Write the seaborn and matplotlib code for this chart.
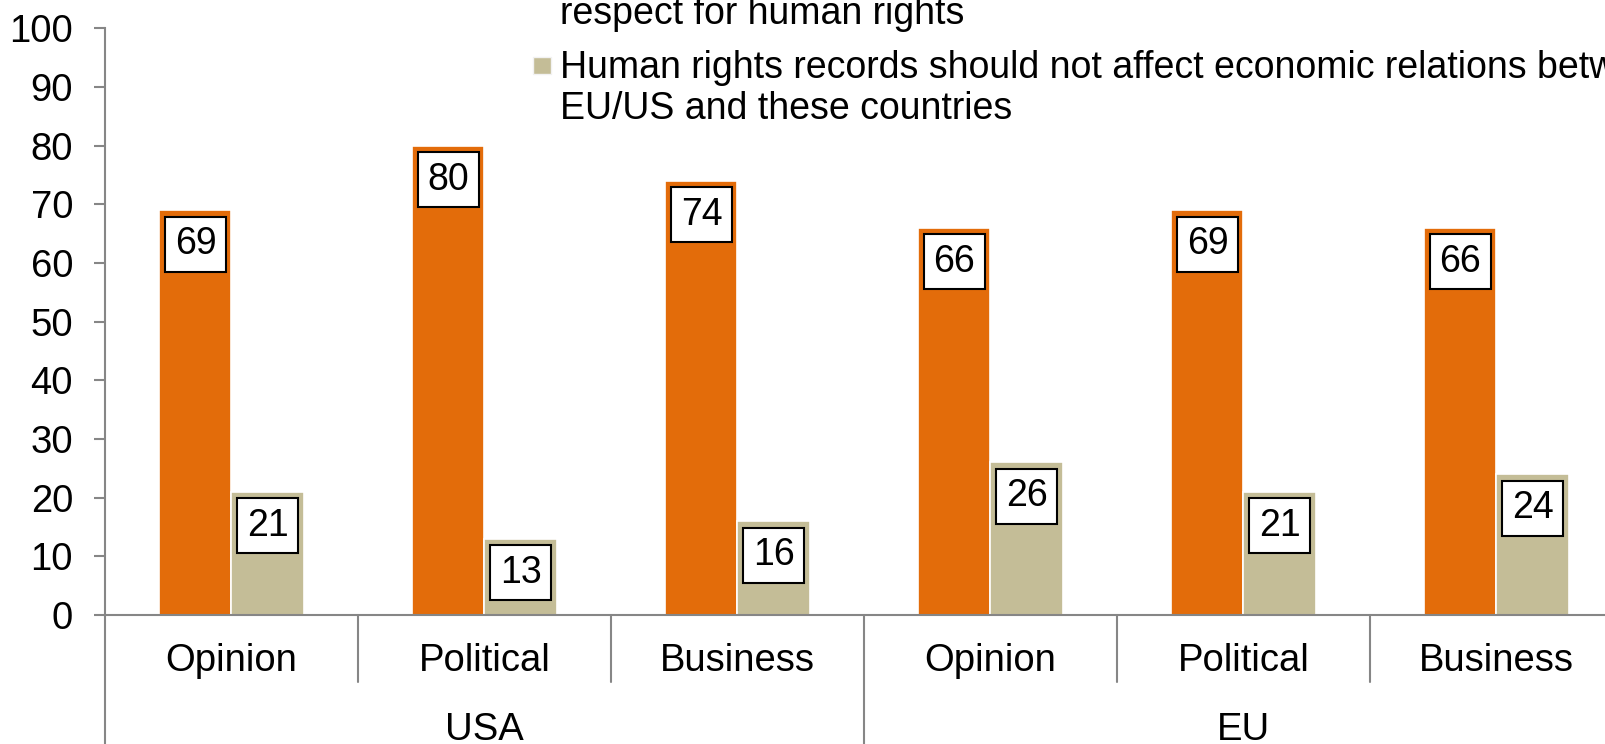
import matplotlib
matplotlib.use("Agg")
import matplotlib.pyplot as plt
from matplotlib.patches import Rectangle
import seaborn as sns
import pandas as pd

# Survey results (% of respondents)
regions = ["USA", "EU"]
groups = ["Opinion", "Political", "Business"]
series_lines = [
    ["Economic relations between EU/US and these countries should depend on their",
     "respect for human rights"],
    ["Human rights records should not affect economic relations between",
     "EU/US and these countries"],
]
series_names = [" ".join(lines) for lines in series_lines]
conditional = [69, 80, 74, 66, 69, 66]
not_affect = [21, 13, 16, 26, 21, 24]
colors = ["#E36C0A", "#C4BD97"]

sns.set_theme(style="white")
plt.rcParams["font.family"] = ["Liberation Sans", "DejaVu Sans"]
plt.rcParams["text.color"] = "black"

keys = [f"{r} {g}" for r in regions for g in groups]
df = pd.DataFrame({
    "key": keys * 2,
    "value": conditional + not_affect,
    "series": [series_names[0]] * len(keys) + [series_names[1]] * len(keys),
})

W, H = 1606, 744
fig = plt.figure(figsize=(W / 100, H / 100), dpi=100)
ax = fig.add_axes([105 / W, 129 / H, 1518 / W, 586.7 / H])

sns.barplot(data=df, x="key", y="value", hue="series", order=keys,
            hue_order=series_names, palette=colors, saturation=1, width=0.57,
            edgecolor="white", linewidth=1.2, legend=False, ax=ax)

axis_grey = "#868686"
ax.set_xlim(-0.5, len(keys) - 0.5)
ax.set_ylim(0, 100)
ax.set_yticks(range(0, 101, 10))
ax.set_xlabel("")
ax.set_ylabel("")
for side in ["top", "right"]:
    ax.spines[side].set_visible(False)
for side in ["left", "bottom"]:
    ax.spines[side].set_color(axis_grey)
    ax.spines[side].set_linewidth(1.5)

ax.tick_params(axis="y", direction="out", length=8, width=1.5, color=axis_grey,
               pad=15, labelsize=27.5, labelcolor="black", left=True)
ax.set_xticks(range(len(keys)))
ax.set_xticklabels([g for _ in regions for g in groups])
ax.tick_params(axis="x", length=0, pad=20, labelsize=27.5, labelcolor="black")

# Category separators and region separators below the axis
for b in [0.5, 1.5, 3.5, 4.5]:
    ax.axvline(b, ymin=-0.114, ymax=0, color=axis_grey, lw=1.5, clip_on=False)
for b in [-0.5, 2.5, 5.5]:
    ax.axvline(b, ymin=-0.25, ymax=0, color=axis_grey, lw=1.5, clip_on=False)

# Region labels
for i, r in enumerate(regions):
    ax.annotate(r, xy=(i * len(groups) + (len(groups) - 1) / 2, 0),
                xycoords=("data", "axes fraction"), xytext=(0, -125),
                textcoords="offset pixels", ha="center", va="baseline",
                fontsize=27.5, color="black")

# Value labels inside the top of each bar
for container, vals in zip(ax.containers, [conditional, not_affect]):
    for bar, v in zip(container, vals):
        ax.annotate(f"{v}", xy=(bar.get_x() + bar.get_width() / 2, v),
                    xytext=(0, -34), textcoords="offset pixels",
                    ha="center", va="center", fontsize=27, color="black",
                    bbox=dict(boxstyle="square,pad=0.25", fc="white",
                              ec="black", lw=1.5))

# Legend: swatch beside the first line of each entry
first_baselines = [-17, 78]
line_step = 41
for lines, col, yb in zip(series_lines, colors, first_baselines):
    fig.patches.append(Rectangle((533 / W, 1 - (yb - 4) / H), 18 / W, 17 / H,
                                 transform=fig.transFigure, facecolor=col,
                                 edgecolor="#F2F2F2", lw=1))
    for k, line in enumerate(lines):
        fig.text(560 / W, 1 - (yb + k * line_step) / H, line, fontsize=27,
                 va="baseline", ha="left", color="black")

fig.savefig("out.png", dpi=100)
